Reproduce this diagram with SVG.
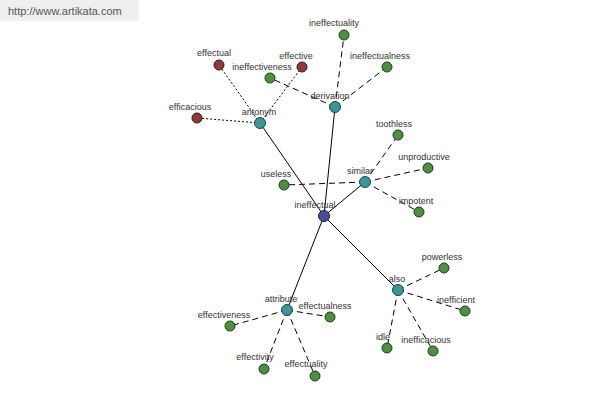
<svg xmlns="http://www.w3.org/2000/svg" width="600" height="400" viewBox="0 0 600 400">
<style>
text{font-family:"Liberation Sans",Arial,sans-serif;font-size:9px;fill:#333;text-anchor:middle}
.wm{font-size:11px;fill:#555;text-anchor:start}
circle{stroke:#1f3a1a;stroke-width:1}
.g{fill:#4d9140}
.r{fill:#8f3b3b;stroke:#3a1515}
.t{fill:#3b9696;stroke:#1d4545}
.c{fill:#4a4c9a;stroke:#1d1d45}
.s{stroke:#000;stroke-width:1;fill:none}
.d{stroke:#000;stroke-width:1;stroke-dasharray:6,4;fill:none}
.o{stroke:#000;stroke-width:1;stroke-dasharray:2,2;fill:none}
</style>
<rect x="0" y="0" width="139" height="21" fill="#efefef"/>
<text class="wm" x="8" y="15">http://www.artikata.com</text>
<g id="connectors">
<line class="s" x1="324" y1="216" x2="260" y2="123"/>
<line class="s" x1="324" y1="216" x2="335" y2="107"/>
<line class="s" x1="324" y1="216" x2="365" y2="182"/>
<line class="s" x1="324" y1="216" x2="287" y2="310"/>
<line class="s" x1="324" y1="216" x2="398" y2="290"/>
<line class="o" x1="260" y1="123" x2="219" y2="65"/>
<line class="o" x1="260" y1="123" x2="302" y2="67"/>
<line class="o" x1="260" y1="123" x2="197" y2="118"/>
<line class="d" x1="335" y1="107" x2="270" y2="78"/>
<line class="d" x1="335" y1="107" x2="344" y2="35"/>
<line class="d" x1="335" y1="107" x2="387" y2="67"/>
<line class="d" x1="365" y1="182" x2="398" y2="135"/>
<line class="d" x1="365" y1="182" x2="428" y2="168"/>
<line class="d" x1="365" y1="182" x2="284" y2="185"/>
<line class="d" x1="365" y1="182" x2="419" y2="212"/>
<line class="d" x1="398" y1="290" x2="444" y2="268"/>
<line class="d" x1="398" y1="290" x2="465" y2="311"/>
<line class="d" x1="398" y1="290" x2="387" y2="348"/>
<line class="d" x1="398" y1="290" x2="433" y2="351"/>
<line class="d" x1="287" y1="310" x2="230" y2="326"/>
<line class="d" x1="287" y1="310" x2="330" y2="317"/>
<line class="d" x1="287" y1="310" x2="264" y2="369"/>
<line class="d" x1="287" y1="310" x2="315" y2="376"/>
</g>
<g id="effectual"><circle class="r" cx="219" cy="65" r="5"/><text x="214" y="56">effectual</text></g>
<g id="effective"><circle class="r" cx="302" cy="67" r="5"/><text x="296" y="59">effective</text></g>
<g id="efficacious"><circle class="r" cx="197" cy="118" r="5"/><text x="190" y="110">efficacious</text></g>
<g id="ineffectiveness"><circle class="g" cx="270" cy="78" r="5"/><text x="262" y="70">ineffectiveness</text></g>
<g id="ineffectuality"><circle class="g" cx="344" cy="35" r="5"/><text x="334" y="26">ineffectuality</text></g>
<g id="ineffectualness"><circle class="g" cx="387" cy="67" r="5"/><text x="380" y="59">ineffectualness</text></g>
<g id="toothless"><circle class="g" cx="398" cy="135" r="5"/><text x="394" y="127">toothless</text></g>
<g id="unproductive"><circle class="g" cx="428" cy="168" r="5"/><text x="424" y="160">unproductive</text></g>
<g id="useless"><circle class="g" cx="284" cy="185" r="5"/><text x="276" y="177">useless</text></g>
<g id="impotent"><circle class="g" cx="419" cy="212" r="5"/><text x="416" y="204">impotent</text></g>
<g id="powerless"><circle class="g" cx="444" cy="268" r="5"/><text x="442" y="260">powerless</text></g>
<g id="inefficient"><circle class="g" cx="465" cy="311" r="5"/><text x="456" y="303">inefficient</text></g>
<g id="idle"><circle class="g" cx="387" cy="348" r="5"/><text x="383" y="340">idle</text></g>
<g id="inefficacious"><circle class="g" cx="433" cy="351" r="5"/><text x="426" y="343">inefficacious</text></g>
<g id="effectiveness"><circle class="g" cx="230" cy="326" r="5"/><text x="224" y="318">effectiveness</text></g>
<g id="effectualness"><circle class="g" cx="330" cy="317" r="5"/><text x="325" y="309">effectualness</text></g>
<g id="effectivity"><circle class="g" cx="264" cy="369" r="5"/><text x="255" y="360">effectivity</text></g>
<g id="effectuality"><circle class="g" cx="315" cy="376" r="5"/><text x="306" y="367">effectuality</text></g>
<g id="antonym"><circle class="t" cx="260" cy="123" r="5.5"/><text x="259" y="115">antonym</text></g>
<g id="derivation"><circle class="t" cx="335" cy="107" r="5.5"/><text x="330" y="99">derivation</text></g>
<g id="similar"><circle class="t" cx="365" cy="182" r="5.5"/><text x="360" y="174">similar</text></g>
<g id="attribute"><circle class="t" cx="287" cy="310" r="5.5"/><text x="281" y="302">attribute</text></g>
<g id="also"><circle class="t" cx="398" cy="290" r="5.5"/><text x="397" y="282">also</text></g>
<g id="ineffectual"><circle class="c" cx="324" cy="216" r="5.5"/><text x="315" y="208">ineffectual</text></g>
</svg>
